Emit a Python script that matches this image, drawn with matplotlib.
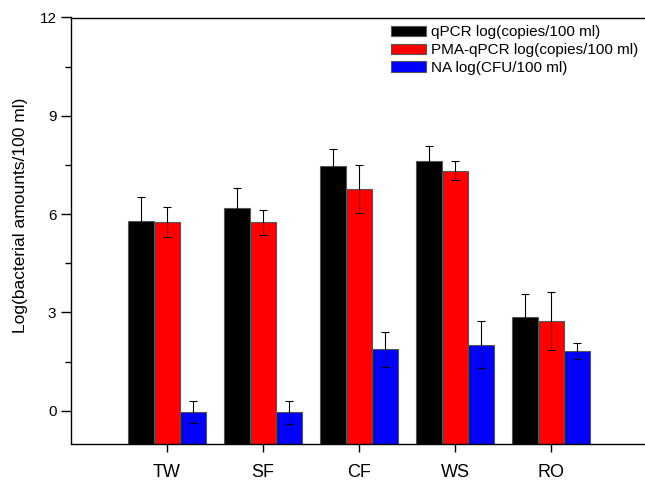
import matplotlib.pyplot as plt
import numpy as np
from matplotlib.ticker import MultipleLocator

plt.rcParams['font.family'] = ['Liberation Sans', 'DejaVu Sans']

sites = ['TW', 'SF', 'CF', 'WS', 'RO']

qpcr = [5.78, 6.19, 7.46, 7.63, 2.87]
qpcr_err = [0.74, 0.60, 0.54, 0.46, 0.70]

pma = [5.75, 5.75, 6.76, 7.32, 2.73]
pma_err = [0.46, 0.38, 0.74, 0.29, 0.89]

na = [-0.04, -0.05, 1.87, 2.02, 1.82]
na_err = [0.33, 0.35, 0.54, 0.72, 0.25]

labels = ['qPCR log(copies/100 ml)', 'PMA-qPCR log(copies/100 ml)', 'NA log(CFU/100 ml)']
colors = ['#000000', '#ff0000', '#0000ff']

fig = plt.figure(figsize=(6.45, 4.82), dpi=100)
ax = fig.add_axes([71/645, 1 - 443.5/482, (647-71)/645, (443.5-17.5)/482])

ymin = -1
x = np.arange(1, len(sites) + 1)
w = 0.27
series = [(qpcr, qpcr_err), (pma, pma_err), (na, na_err)]
for i, (vals, errs) in enumerate(series):
    vals = np.array(vals)
    # bars start at the bottom of the axis, like the original
    ax.bar(x + (i - 1) * w, vals - ymin, w, bottom=ymin, color=colors[i],
           edgecolor='#555555', linewidth=0.8, label=labels[i], zorder=2)
    ax.errorbar(x + (i - 1) * w, vals, yerr=errs, fmt='none', ecolor='black',
                elinewidth=0.8, capsize=3, capthick=0.8, zorder=3)

ax.set_xlim(0, 6)
ax.set_ylim(ymin, 12)
ax.set_xticks(x)
ax.set_xticklabels(sites, fontsize=13)
ax.yaxis.set_major_locator(MultipleLocator(3))
ax.yaxis.set_minor_locator(MultipleLocator(1.5))
ax.tick_params(axis='y', which='major', direction='out', length=7, width=1, labelsize=11)
ax.tick_params(axis='y', which='minor', direction='out', length=4, width=1)
ax.tick_params(axis='x', direction='out', length=6, width=1, pad=9)
for s in ax.spines.values():
    s.set_linewidth(1)
ax.spines['right'].set_visible(False)

ax.set_ylabel('Log(bacterial amounts/100 ml)', fontsize=12.5)
ax.yaxis.set_label_coords(-0.075, 0.536)

ax.legend(loc='upper left', bbox_to_anchor=(0.556, 0.982), frameon=False,
          fontsize=11, handlelength=2.3, handleheight=0.65,
          handletextpad=0.3, labelspacing=0.25, borderaxespad=0, borderpad=0)

fig.savefig('out.png', dpi=100)
plt.close(fig)
